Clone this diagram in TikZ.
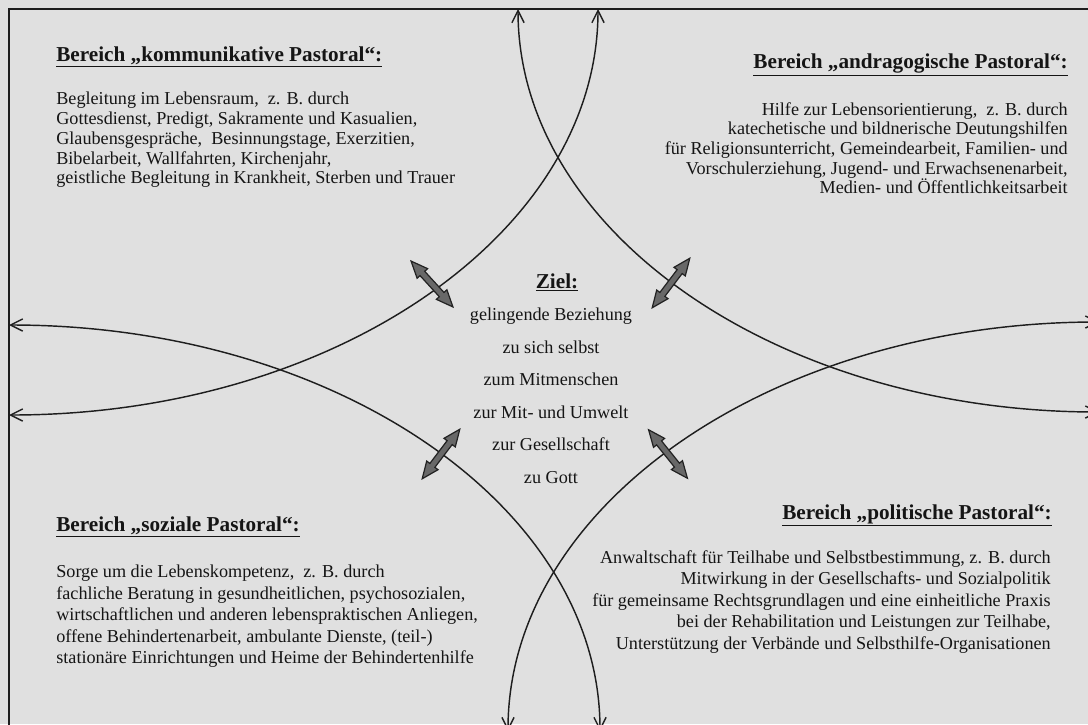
\documentclass[tikz,border=0pt]{standalone}
\usepackage{fontspec}
\setmainfont{Liberation Serif}
\usetikzlibrary{arrows.meta,shapes.arrows}
\definecolor{bgc}{HTML}{E0E0E0}
\definecolor{txt}{HTML}{151515}
\definecolor{linec}{HTML}{1E1E1E}
\definecolor{arrc}{HTML}{222222}
\definecolor{arrf}{HTML}{686868}
\begin{document}
\begin{tikzpicture}[x=0.66pt,y=-0.66pt,
  curve/.style={draw=linec, line width=0.95pt,
    {Straight Barb[length=8pt,width=8pt]}-{Straight Barb[length=8pt,width=8pt]}},
  framel/.style={draw=linec, line width=1pt},
  head/.style={font=\fontsize{14}{16}\selectfont\bfseries, inner sep=0pt, text=txt},
  bodyt/.style={font=\fontsize{12}{13}\selectfont, inner sep=0pt, text=txt},
  bodyb/.style={font=\fontsize{12}{14.2}\selectfont, inner sep=0pt, text=txt},
  centt/.style={font=\fontsize{12}{21.4}\selectfont, inner sep=0pt, text=txt, align=center},
  dbl/.style={double arrow, draw=arrc, fill=arrf, line width=0.8pt,
    minimum height=41pt, inner sep=0pt, text height=3.4pt, text depth=0pt, text width=0pt,
    double arrow head extend=2.6pt, double arrow tip angle=46}
]
\useasboundingbox (0,0) rectangle (1088,724);
\fill[bgc] (0,0) rectangle (1088,724);
% frame (top and left)
\coordinate (fb) at (9,740);
\coordinate (fc) at (9,9);
\coordinate (fr) at (1100,9);
\draw[framel] (fb) -- (fc) -- (fr);

% curves
\coordinate (c1a) at (9,325);  \coordinate (c1b) at (600,731);
\coordinate (c2a) at (9,415);  \coordinate (c2b) at (598,9);
\coordinate (c3a) at (518,9);  \coordinate (c3b) at (1099,412);
\coordinate (c4a) at (508,731); \coordinate (c4b) at (1099,322);
\draw[curve] (c1a) .. controls (336,325) and (600,507) .. (c1b);
\draw[curve] (c2a) .. controls (334,415) and (598,233) .. (c2b);
\draw[curve] (c3a) .. controls (518,232) and (778,412) .. (c3b);
\draw[curve] (c4a) .. controls (508,505) and (773,322) .. (c4b);

% double arrows
\node[dbl, rotate=-47.6] (dtl) at (432,284) {};
\node[dbl, rotate=52.8]  (dtr) at (671,283) {};
\node[dbl, rotate=52.8]  (dbl1) at (441,454) {};
\node[dbl, rotate=-51.3] (dbr) at (668,454) {};

% top left
\node[head, anchor=north west] (htl) at (56,46) {\underline{Bereich „kommunikative Pastoral“:}};
\node[bodyt, anchor=north west, align=left] (btl) at (56,92) {Begleitung im Lebensraum,\ \ z. B. durch\\
Gottesdienst, Predigt, Sakramente und Kasualien,\\
Glaubensgespräche,\ \ Besinnungstage, Exerzitien,\\
Bibelarbeit, Wallfahrten, Kirchenjahr,\\
geistliche Begleitung in Krankheit, Sterben und Trauer};

% top right
\node[head, anchor=north east] (htr) at (1068,53) {\underline{Bereich „andragogische Pastoral“:}};
\node[bodyt, anchor=north east, align=right] (btr) at (1068,102) {Hilfe zur Lebensorientierung,\ \ z. B. durch\\
katechetische und bildnerische Deutungshilfen\\
für Religionsunterricht, Gemeindearbeit, Familien- und\\
Vorschulerziehung, Jugend- und Erwachsenenarbeit,\\
Medien- und Öffentlichkeitsarbeit};

% bottom left
\node[head, anchor=north west] (hbl) at (56,516) {\underline{Bereich „soziale Pastoral“:}};
\node[bodyb, anchor=north west, align=left] (bbl) at (56,565) {Sorge um die Lebenskompetenz,\ \ z. B. durch\\
fachliche Beratung in gesundheitlichen, psychosozialen,\\
wirtschaftlichen und anderen lebenspraktischen Anliegen,\\
offene Behindertenarbeit, ambulante Dienste, (teil-)\\
stationäre Einrichtungen und Heime der Behindertenhilfe};

% bottom right
\node[head, anchor=north east] (hbr) at (1052,504) {\underline{Bereich „politische Pastoral“:}};
\node[bodyb, anchor=north east, align=right] (bbr) at (1051,550) {Anwaltschaft für Teilhabe und Selbstbestimmung, z. B. durch\\
Mitwirkung in der Gesellschafts- und Sozialpolitik\\
für gemeinsame Rechtsgrundlagen und eine einheitliche Praxis\\
bei der Rehabilitation und Leistungen zur Teilhabe,\\
Unterstützung der Verbände und Selbsthilfe-Organisationen};

% centre
\node[head, anchor=north] (ziel) at (557,273) {\underline{Ziel:}};
\node[centt, anchor=north] (zt) at (551,308) {gelingende Beziehung\\
zu sich selbst\\
zum Mitmenschen\\
zur Mit- und Umwelt\\
zur Gesellschaft\\
zu Gott};
\end{tikzpicture}
\end{document}
